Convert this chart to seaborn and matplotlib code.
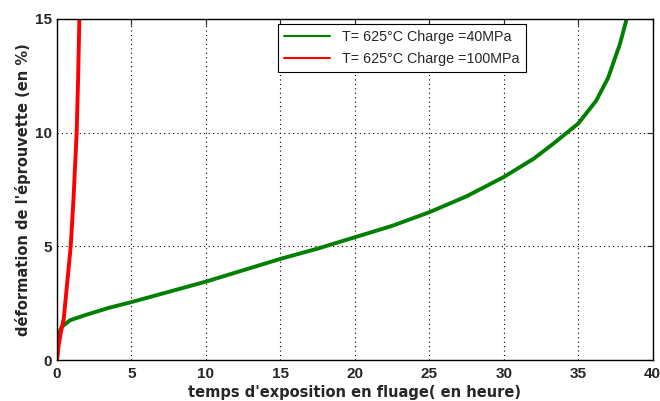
import matplotlib
matplotlib.use("Agg")
import matplotlib.pyplot as plt
import pandas as pd
import seaborn as sns

# creep curves
time_40 = [0, 0.1, 0.3, 0.87, 2, 3.5, 5, 7.5, 10, 12.5, 15, 17.5, 20, 22.5,
           25, 27.5, 30, 32, 33.3, 35, 36.2, 37.0, 37.8, 38.25]
strain_40 = [0, 1.1, 1.45, 1.75, 2.0, 2.3, 2.55, 3.0, 3.45, 3.95, 4.45, 4.9,
             5.4, 5.9, 6.5, 7.2, 8.05, 8.85, 9.5, 10.4, 11.4, 12.4, 13.9, 15]
time_100 = [0, 0.1, 0.25, 0.45, 0.92, 1.1, 1.32, 1.42, 1.5]
strain_100 = [0, 0.6, 1.2, 1.8, 5, 7, 10, 12.5, 15]

labels = ["T= 625°C Charge =40MPa", "T= 625°C Charge =100MPa"]
colors = ["#008000", "#ff0000"]

df = pd.concat([
    pd.DataFrame({"t": time_40, "eps": strain_40, "serie": labels[0]}),
    pd.DataFrame({"t": time_100, "eps": strain_100, "serie": labels[1]}),
])

sns.set_style("white")
fig = plt.figure(figsize=(6.6, 4.01), dpi=100)
ax = fig.add_axes([0.0864, 0.102, 0.9026, 0.851])

sns.lineplot(data=df, x="t", y="eps", hue="serie", palette=colors,
             estimator=None, sort=False, linewidth=2.8, ax=ax)

ax.set_xlim(0, 40)
ax.set_ylim(0, 15)
ax.set_xticks(range(0, 41, 5))
ax.set_yticks([0, 5, 10, 15])
ax.grid(True, linestyle=(0, (1, 3)), color="black", linewidth=0.8)
ax.tick_params(direction="in", top=True, right=True, length=4)
ax.tick_params(axis="x", pad=5)
for lab in ax.get_xticklabels() + ax.get_yticklabels():
    lab.set_fontweight("bold")
    lab.set_family(["Liberation Sans Narrow", "Liberation Sans"])
    lab.set_fontsize(11)
for s in ax.spines.values():
    s.set_color("black")
    s.set_linewidth(1)

ax.set_xlabel("temps d'exposition en fluage( en heure)", fontsize=10.5,
              fontweight="bold", labelpad=3)
ax.set_ylabel("déformation de l'éprouvette (en %)", fontsize=10.5,
              fontweight="bold", labelpad=3)

leg = ax.legend(loc="upper left", bbox_to_anchor=(0.371, 0.985),
                borderaxespad=0, frameon=True, fancybox=False, framealpha=1,
                edgecolor="black", handlelength=3.2, borderpad=0.45,
                labelspacing=0.5, prop={"family": "Liberation Sans", "size": 10.3})
leg.get_frame().set_linewidth(0.8)
for line in leg.get_lines():
    line.set_linewidth(1.5)

fig.savefig("out.png", dpi=100)
